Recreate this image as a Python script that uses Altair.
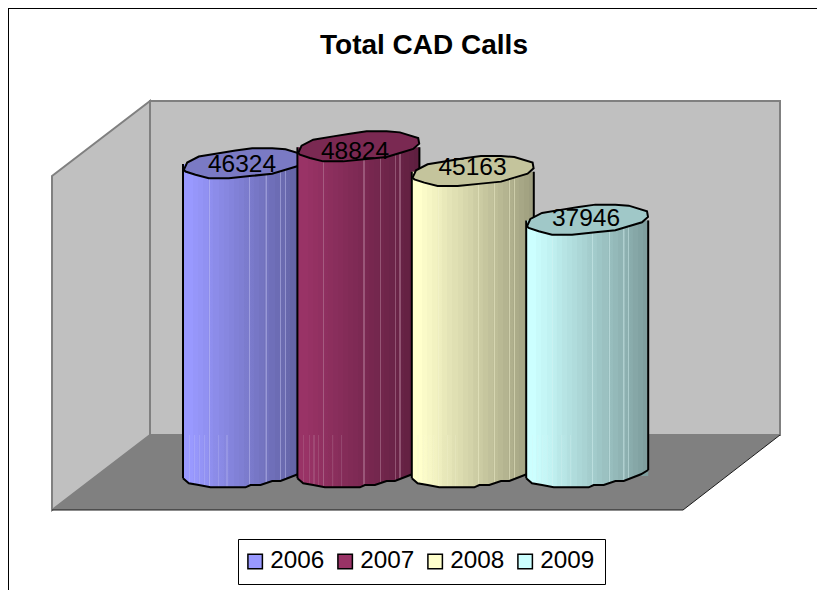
import altair as alt
import pandas as pd

years = [2006, 2007, 2008, 2009]
totals = [46324, 48824, 45163, 37946]
title_text = "Total CAD Calls"
swatch = ["#9999FF", "#993366", "#FFFFCC", "#CCFFFF"]
shade = ["#5E5E9C", "#5E1F3F", "#9C9C7D", "#7D9C9C"]
top_cap = ["#7A7AC4", "#7A2952", "#C4C49C", "#A0C8C8"]
streak = ["#C8C8F4", "#C090A8", "#F4F4D0", "#D8F4F4"]
streak_at = [0.215, 0.545, 0.68, 0.80, 0.84]
low_streak_at = [0.05, 0.095, 0.135, 0.175, 0.29, 0.36]
label_dx = [-2, -3.4, -0.3, -1.2]
label_dy = [0.5, 5, -4, -1]

FONT = "Liberation Sans"
W, H = 809, 582
BODY = 122
STRIPS = 24
df = pd.DataFrame({"year": years, "total": totals, "label": [str(t) for t in totals],
                   "name": [str(y) for y in years]})

x_enc = alt.X("year:Q", axis=None, scale=alt.Scale(domain=[2006 - 236 / 114.4, 2006 + (W - 236) / 114.4],
                                                   nice=False, zero=False, padding=0))
y_scale = alt.Scale(domain=[-16927, 69488], nice=False, zero=False, padding=0)
y_enc = alt.Y("total:Q", axis=None, scale=y_scale)


def mix(a, b, t):
    pa = [int(a[i:i + 2], 16) for i in (1, 3, 5)]
    pb = [int(b[i:i + 2], 16) for i in (1, 3, 5)]
    return "#" + "".join(f"{round(p + (q - p) * t):02x}" for p, q in zip(pa, pb))


def tone(i, s):
    return mix(swatch[i], shade[i], max(0.0, (s - 0.06) / 0.94))


def gradient(i, extra=()):
    stops = []
    for k in range(STRIPS):
        a, b = k / STRIPS, (k + 1) / STRIPS
        c = tone(i, (a + b) / 2)
        stops += [(a, c), (b, c)]
    marks = [(s, 0.45) for s in streak_at] + [(s, 0.25) for s in extra]
    for s, strength in sorted(marks):
        c = tone(i, s)
        lit = mix(c, streak[i], strength)
        stops = [p for p in stops if not (s - 0.004 <= p[0] <= s + 0.006)]
        stops += [(s - 0.004, c), (s - 0.0035, lit), (s + 0.0055, lit), (s + 0.006, c)]
    stops.sort(key=lambda p: p[0])
    return alt.LinearGradient(gradient="linear", x1=0, x2=1, y1=0, y2=0,
                              stops=[alt.GradientStop(offset=o, color=c) for o, c in stops])


def shape(fill, path, stroke=None, sw=1.0):
    kw = dict(shape=path, size=4, opacity=1, filled=fill is not None)
    if fill is not None:
        kw["fill"] = fill
    if stroke:
        kw["stroke"] = stroke
        kw["strokeWidth"] = sw
    else:
        kw["strokeWidth"] = 0
    return kw


back_wall = "M142,93 L772,93 L772,427 L142,427 Z"
left_wall = "M44,168 L142,93 L142,427 L44,502 Z"
floor = "M142,427 L772,427 L675,502 L44,502 Z"
floor_edge = "M44,502 L675,502 L772,427"

one = pd.DataFrame({"a": [0]})
origin = dict(x=alt.value(0), y=alt.value(0))
layers = [
    alt.Chart(one).mark_point(**shape("#C0C0C0", back_wall, "#808080", 2)).encode(**origin),
    alt.Chart(one).mark_point(**shape("#C0C0C0", left_wall, "#808080", 2)).encode(**origin),
    alt.Chart(one).mark_point(**shape("#808080", floor)).encode(**origin),
    alt.Chart(one).mark_point(**shape(None, floor_edge, "#1A1A1A", 1)).encode(**origin),
    alt.Chart(one).mark_rule(color="black", strokeWidth=1).encode(x=alt.value(0.5), y=alt.value(0), y2=alt.value(H)),
    alt.Chart(one).mark_rule(color="black", strokeWidth=1).encode(y=alt.value(0.5), x=alt.value(0), x2=alt.value(W)),
    # flat colours for the legend, hidden behind the cylinders
    alt.Chart(df).transform_calculate(base="0").mark_square(size=4, opacity=1, filled=True).encode(
        x=x_enc,
        y=alt.Y("base:Q", axis=None, scale=y_scale),
        color=alt.Color("name:N", scale=alt.Scale(domain=[str(y) for y in years], range=swatch),
                        legend=alt.Legend(title=None, orient="none", legendX=230, legendY=531, columns=4,
                                          direction="horizontal", symbolType="square", symbolSize=210,
                                          symbolStrokeColor="black", symbolStrokeWidth=1.5, symbolOpacity=1,
                                          labelFont=FONT, labelFontSize=24.3, labelColor="black", labelOffset=3,
                                          labelLimit=100, columnPadding=9, padding=10, symbolOffset=-5,
                                          fillColor="white", strokeColor="black")),
    ),
]

top_path = ("M-60.2,5.8 L-56.8,-1.5 L-45.2,-7.5 L-25.2,-10.8 L-8.5,-13.5 L8.2,-15.8 L28.2,-15.8 L41.5,-14.8 "
            "L59.8,-9.2 L60.8,-3.5 L54.8,1.8 L41.5,5.8 L28.2,9.8 L8.2,11.8 L-15.2,14.2 L-35.2,14.2 L-48.5,10.8 L-58.5,7.5 Z")
cap_fill = ("M-61,-7 L-61,2.3 L-55.2,7.3 L-45.2,9 L-33.5,11.3 L1.5,11.3 L6.5,9 L16.5,9 L28.2,5 L36.5,5 "
            "L53.8,-1.7 L61,-6 L61,-7 Z")
cap_line = ("M-61,2.3 L-55.2,7.3 L-45.2,9 L-33.5,11.3 L1.5,11.3 L6.5,9 L16.5,9 L28.2,5 L36.5,5 "
            "L53.8,-1.7 L61,-6")

ZERO_PX = 468
FLOOR_LINE = 427
for i, yr in enumerate(years):
    d = df[df.year == yr]
    g = gradient(i)
    g_low = gradient(i, low_streak_at)
    base = alt.Chart(d)
    zero_pos = alt.Y("base:Q", axis=None, scale=y_scale)
    layers += [
        base.mark_bar(width=BODY, fill=g, opacity=1).encode(x=x_enc, y=y_enc, y2=alt.value(FLOOR_LINE)),
        base.mark_bar(width=BODY, fill=g_low, opacity=1).encode(x=x_enc, y=alt.value(FLOOR_LINE), y2=alt.value(ZERO_PX - 6)),
        base.transform_calculate(base="0").mark_point(**shape(g_low, cap_fill)).encode(x=x_enc, y=zero_pos),
        base.transform_calculate(base="0").mark_point(**shape(None, cap_line, "black", 2)).encode(x=x_enc, y=zero_pos),
        base.mark_rule(color="black", strokeWidth=2, xOffset=-61).encode(x=x_enc, y=y_enc, y2=alt.value(ZERO_PX + 2.3)),
        base.mark_rule(color="black", strokeWidth=2, xOffset=61).encode(x=x_enc, y=y_enc, y2=alt.value(ZERO_PX - 6)),
        base.mark_point(**shape(top_cap[i], top_path, "black", 2)).encode(x=x_enc, y=y_enc),
    ]

for i, yr in enumerate(years):
    layers.append(
        alt.Chart(df[df.year == yr]).mark_text(font=FONT, fontSize=24.5, color="black", align="center", baseline="middle",
                                               dx=label_dx[i], dy=label_dy[i]).encode(x=x_enc, y=y_enc, text="label:N"))

chart = alt.layer(*layers).properties(
    width=W, height=H,
    padding=0,
    autosize=alt.AutoSizeParams(type="none"),
    title=alt.TitleParams(text=title_text, font=FONT, fontSize=28, fontWeight="bold", color="black",
                          anchor="start", frame="group", dx=312, dy=74, baseline="alphabetic", offset=0),
).configure_view(stroke=None).configure(background="white")

chart.save("out.html", embed_options={"renderer": "svg", "actions": False})
